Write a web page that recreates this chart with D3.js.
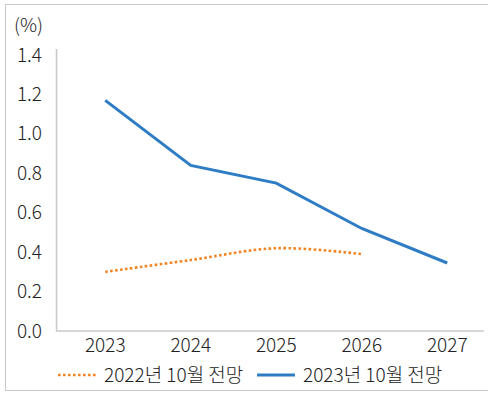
<!DOCTYPE html>
<html>
<head>
  <meta charset="utf-8" />
  <script src="https://d3js.org/d3.v7.min.js"></script>
</head>
<body style="margin: 0; background: #fff">
<script>

// chart data
var years = ['2023', '2024', '2025', '2026', '2027']
var yTicks = [0, 0.2, 0.4, 0.6, 0.8, 1.0, 1.2, 1.4]
var oct2022 = [0.30, 0.36, 0.42, 0.39, null]
var oct2023 = [1.17, 0.84, 0.75, 0.52, 0.345]
var seriesNames = ['2022년 10월 전망', '2023년 10월 전망']

var width = 488, height = 394
var font = '"Noto Sans CJK KR", "Noto Sans", sans-serif'
var fs = 19

var svg = d3.select("body").append("svg")
  .attr("width", width)
  .attr("height", height)
  .style("font-family", font)
  .style("font-weight", 300)

// outer frame
svg.append("rect")
  .attr("x", 5.5).attr("y", 4.5)
  .attr("width", 500).attr("height", 386)
  .attr("fill", "none").attr("stroke", "#c8c8c8")

var x = d3.scaleBand().domain(years).range([62.5, 490])
var y = d3.scaleLinear().domain([0, 1.4]).range([331, 55])

// y axis
var yAxis = svg.append("g")
  .attr("transform", "translate(56,0)")
  .call(d3.axisLeft(y).tickValues(yTicks).tickFormat(d3.format(".1f")).tickSize(0).tickPadding(14))
yAxis.select(".domain").remove()
yAxis.selectAll("text").attr("font-size", fs).attr("fill", "#222").style("font-family", font)
svg.append("line")
  .attr("x1", 56.5).attr("x2", 56.5).attr("y1", 49).attr("y2", y(0))
  .attr("stroke", "#c8c8c8").attr("stroke-width", 1.5)

// x axis
var xAxis = svg.append("g")
  .attr("transform", "translate(0," + y(0) + ")")
  .call(d3.axisBottom(x).tickSize(0).tickPadding(7))
xAxis.select(".domain").remove()
xAxis.selectAll("text").attr("font-size", fs).attr("fill", "#222").style("font-family", font)
svg.append("line")
  .attr("x1", 56).attr("x2", 484).attr("y1", y(0)).attr("y2", y(0))
  .attr("stroke", "#c8c8c8").attr("stroke-width", 1.5)

svg.append("text")
  .attr("x", 14).attr("y", 32)
  .attr("font-size", fs).attr("fill", "#222")
  .text("(%)")

var cx = function(d, i) { return x(years[i]) + x.bandwidth() / 2 }

var line22 = d3.line()
  .defined(function(d) { return d != null })
  .x(cx).y(function(d) { return y(d) })
  .curve(d3.curveCatmullRom.alpha(0.5))

var line23 = d3.line()
  .x(cx).y(function(d) { return y(d) })

svg.append("path")
  .attr("d", line22(oct2022))
  .attr("fill", "none")
  .attr("stroke", "#F28422")
  .attr("stroke-width", 2.6)
  .attr("stroke-dasharray", "2.6,2.4")

svg.append("path")
  .attr("d", line23(oct2023))
  .attr("fill", "none")
  .attr("stroke", "#2E7CC4")
  .attr("stroke-width", 3)

// legend
var legend = [
  {name: seriesNames[0], color: "#F28422", dash: "2.6,2.4", w: 2.6, x0: 58},
  {name: seriesNames[1], color: "#2E7CC4", dash: null, w: 3, x0: 257}
]
var lg = svg.selectAll(".legend").data(legend).enter().append("g")
  .attr("class", "legend")
  .attr("transform", function(d) { return "translate(" + d.x0 + ",375)" })
lg.append("line")
  .attr("x1", 0).attr("x2", 38)
  .attr("stroke", function(d) { return d.color })
  .attr("stroke-width", function(d) { return d.w })
  .attr("stroke-dasharray", function(d) { return d.dash })
lg.append("text")
  .attr("x", 46).attr("dy", "0.35em")
  .attr("font-size", fs).attr("fill", "#222")
  .text(function(d) { return d.name })

</script>
</body>
</html>
